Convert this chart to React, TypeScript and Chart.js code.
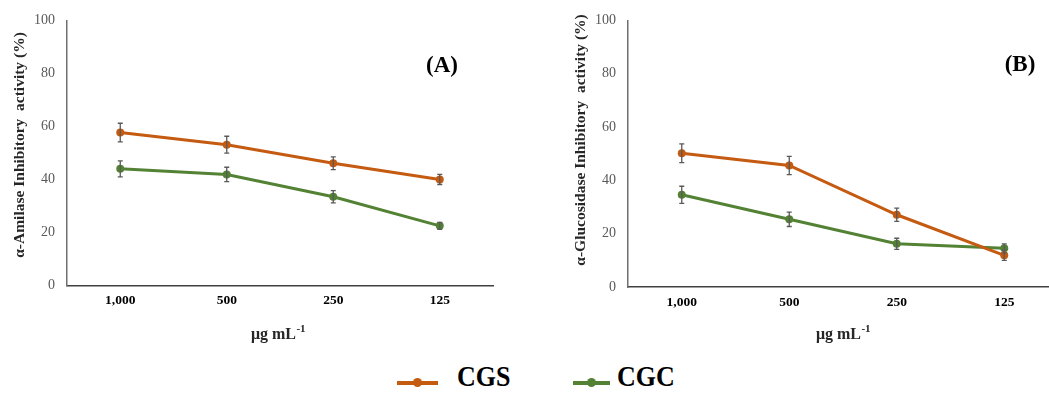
import React, { useEffect, useRef } from "react";
import { Chart, registerables } from "chart.js";

Chart.register(...registerables);

// ---------- data ----------
const categories = ["1,000", "500", "250", "125"];
const yTickValues = [0, 20, 40, 60, 80, 100];

const amylaseCGS = [57.7, 53.1, 46.1, 40.0];
const amylaseCGSErr = [3.5, 3.2, 2.4, 1.9];
const amylaseCGC = [44.0, 41.9, 33.5, 22.5];
const amylaseCGCErr = [3.0, 2.7, 2.3, 1.3];

const glucoCGS = [50.2, 45.6, 27.1, 11.9];
const glucoCGSErr = [3.5, 3.4, 2.5, 1.9];
const glucoCGC = [34.6, 25.4, 16.2, 14.5];
const glucoCGCErr = [3.2, 2.7, 2.1, 1.7];

const seriesNames = ["CGS", "CGC"];
const seriesColors = ["#C55A11", "#548235"];

const SERIF = "'Liberation Serif', 'Times New Roman', serif";

// ---------- plugins ----------
const errorBarPlugin = {
  id: "errorBars",
  afterDatasetsDraw(chart: any) {
    const ctx = chart.ctx;
    const yScale = chart.scales.y;
    chart.data.datasets.forEach((ds: any, i: number) => {
      const meta = chart.getDatasetMeta(i);
      if (!ds.errors) return;
      ctx.save();
      ctx.strokeStyle = "#595959";
      ctx.lineWidth = 1.3;
      meta.data.forEach((pt: any, j: number) => {
        const v = ds.data[j];
        const e = ds.errors[j];
        const x = pt.x;
        const yTop = yScale.getPixelForValue(v + e);
        const yBot = yScale.getPixelForValue(v - e);
        ctx.beginPath();
        ctx.moveTo(x, yTop);
        ctx.lineTo(x, yBot);
        ctx.moveTo(x - 2.5, yTop);
        ctx.lineTo(x + 2.5, yTop);
        ctx.moveTo(x - 2.5, yBot);
        ctx.lineTo(x + 2.5, yBot);
        ctx.stroke();
      });
      ctx.restore();
    });
  },
};

const titlesPlugin = {
  id: "titles",
  afterDraw(chart: any, _args: any, opts: any) {
    const ctx = chart.ctx;
    ctx.save();
    // y title (rotated)
    ctx.fillStyle = "#262626";
    ctx.font = `bold 15.5px ${SERIF}`;
    ctx.textAlign = "center";
    ctx.textBaseline = "middle";
    ctx.translate(opts.yTitleX, opts.yTitleY);
    ctx.rotate(-Math.PI / 2);
    ctx.fillText(opts.yTitle, 0, 0);
    ctx.restore();

    // x title with superscript
    ctx.save();
    ctx.fillStyle = "#262626";
    ctx.textBaseline = "alphabetic";
    ctx.textAlign = "left";
    const mainFont = `bold 16px ${SERIF}`;
    const supFont = `bold 11px ${SERIF}`;
    ctx.font = mainFont;
    const mainW = ctx.measureText("μg mL").width;
    ctx.font = supFont;
    const supW = ctx.measureText("-1").width;
    const startX = opts.xTitleX - (mainW + supW) / 2;
    const base = opts.xTitleY + 5.5;
    ctx.font = mainFont;
    ctx.fillText("μg mL", startX, base);
    ctx.font = supFont;
    ctx.fillText("-1", startX + mainW + 0.5, base - 6.5);
    ctx.restore();

    // panel label
    ctx.save();
    ctx.fillStyle = "#000000";
    ctx.font = `bold 23px ${SERIF}`;
    ctx.textAlign = "center";
    ctx.textBaseline = "middle";
    ctx.fillText(opts.panel, opts.panelX, opts.panelY);
    ctx.restore();
  },
};

function makeConfig(
  cgs: number[],
  cgsErr: number[],
  cgc: number[],
  cgcErr: number[],
  layout: { top: number; bottom: number; yWidth: number; right: number },
  titles: any
): any {
  const mk = (label: string, data: number[], errors: number[], color: string) => ({
    label,
    data,
    errors,
    borderColor: color,
    backgroundColor: color,
    borderWidth: 3,
    pointRadius: 4,
    pointBackgroundColor: color,
    pointBorderColor: color,
    pointBorderWidth: 0,
    tension: 0,
    fill: false,
  });
  return {
    type: "line",
    data: {
      labels: categories,
      datasets: [
        mk(seriesNames[0], cgs, cgsErr, seriesColors[0]),
        mk(seriesNames[1], cgc, cgcErr, seriesColors[1]),
      ],
    },
    options: {
      responsive: false,
      animation: false,
      events: [],
      layout: { padding: { top: layout.top, left: 0, right: layout.right, bottom: 0 } },
      plugins: {
        legend: { display: false },
        tooltip: { enabled: false },
        titles,
      },
      scales: {
        x: {
          type: "category",
          offset: true,
          grid: { display: false, drawTicks: false },
          border: { display: true, color: "#404040", width: 1.5 },
          ticks: {
            color: "#000000",
            font: { family: SERIF, size: 13.5, weight: "bold" },
            padding: 7,
            maxRotation: 0,
            autoSkip: false,
          },
          afterFit: (scale: any) => {
            scale.height = layout.bottom;
          },
        },
        y: {
          type: "linear",
          min: 0,
          max: 100,
          afterBuildTicks: (scale: any) => {
            scale.ticks = yTickValues.map((v) => ({ value: v }));
          },
          grid: { display: false, drawTicks: false },
          border: { display: true, color: "#6F6F6F", width: 1.5 },
          ticks: {
            color: "#595959",
            font: { family: SERIF, size: 14 },
            padding: 12,
          },
          afterFit: (scale: any) => {
            scale.width = layout.yWidth;
          },
        },
      },
    },
    plugins: [errorBarPlugin, titlesPlugin],
  };
}

function Panel(props: { config: any; left: number; width: number; height: number }) {
  const ref = useRef<HTMLCanvasElement | null>(null);
  useEffect(() => {
    if (!ref.current) return;
    const chart = new Chart(ref.current, props.config);
    return () => chart.destroy();
  }, []);
  return (
    <canvas
      ref={ref}
      width={props.width}
      height={props.height}
      style={{ position: "absolute", left: props.left, top: 0, width: props.width, height: props.height }}
    />
  );
}

function LegendItem(props: { color: string; label: string; lineLeft: number; lineWidth: number; textLeft: number }) {
  return (
    <>
      <div
        style={{
          position: "absolute",
          left: props.lineLeft,
          top: 380.5,
          width: props.lineWidth,
          height: 4,
          background: props.color,
        }}
      />
      <div
        style={{
          position: "absolute",
          left: props.lineLeft + props.lineWidth / 2 - 4.5,
          top: 378,
          width: 9,
          height: 9,
          borderRadius: "50%",
          background: props.color,
        }}
      />
      <div
        style={{
          position: "absolute",
          left: props.textLeft,
          top: 362,
          fontFamily: SERIF,
          fontWeight: "bold",
          fontSize: 26,
          lineHeight: "30px",
          color: "#000",
          whiteSpace: "nowrap",
          transform: "scaleY(1.12)",
          transformOrigin: "left center",
        }}
      >
        {props.label}
      </div>
    </>
  );
}

export default function App() {
  const H = 350;
  const leftConfig = makeConfig(
    amylaseCGS,
    amylaseCGSErr,
    amylaseCGC,
    amylaseCGCErr,
    { top: 18, bottom: H - 285.5, yWidth: 67, right: 560 - 493 },
    {
      yTitle: "α-Amilase Inhibitory  activity (%)",
      yTitleX: 20,
      yTitleY: 145,
      xTitleX: 278,
      xTitleY: 333,
      panel: "(A)",
      panelX: 442,
      panelY: 66,
    }
  );
  const rightConfig = makeConfig(
    glucoCGS,
    glucoCGSErr,
    glucoCGC,
    glucoCGCErr,
    { top: 20.5, bottom: H - 287, yWidth: 68, right: 0 },
    {
      yTitle: "α-Glucosidase Inhibitory  activity (%)",
      yTitleX: 20.7,
      yTitleY: 140,
      xTitleX: 283,
      xTitleY: 333,
      panel: "(B)",
      panelX: 460,
      panelY: 65,
    }
  );
  return (
    <div
      style={{
        position: "fixed",
        left: 0,
        top: 0,
        width: 1049,
        height: 393,
        overflow: "hidden",
        background: "#ffffff",
      }}
    >
      <Panel config={leftConfig} left={0} width={560} height={H} />
      <Panel config={rightConfig} left={560} width={502} height={H} />
      <LegendItem color={seriesColors[0]} label={seriesNames[0]} lineLeft={397} lineWidth={41} textLeft={457} />
      <LegendItem color={seriesColors[1]} label={seriesNames[1]} lineLeft={573} lineWidth={37} textLeft={617} />
    </div>
  );
}
